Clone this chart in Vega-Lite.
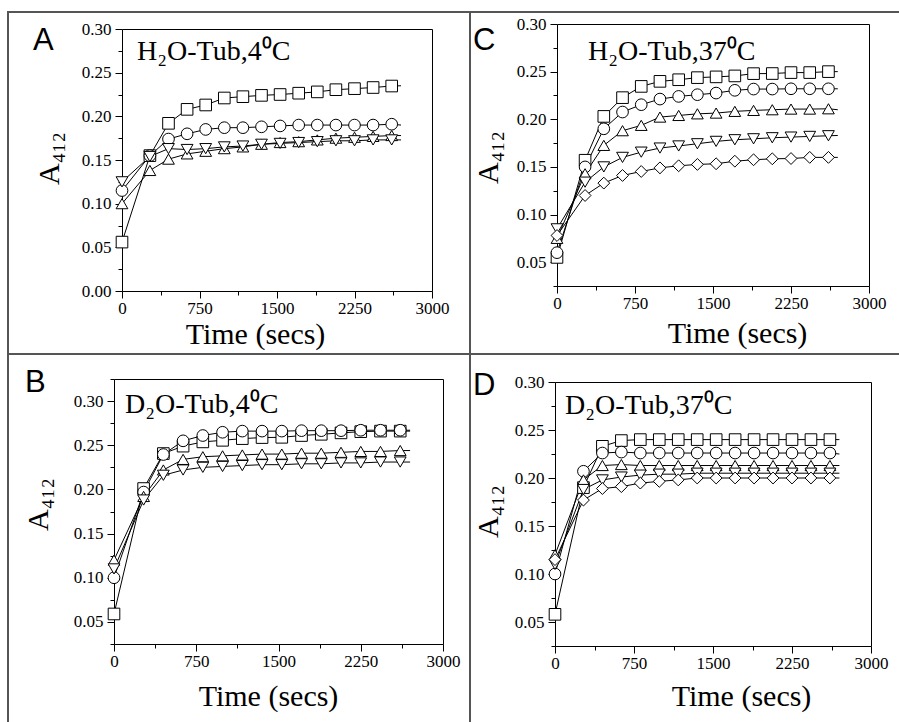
{
"$schema": "https://vega.github.io/schema/vega-lite/v6.json",
"padding": {"left": 7, "top": 11, "right": 0, "bottom": 0},
"autosize": {"type": "pad"},
"background": "white",
"columns": 7,
"spacing": 0,
"bounds": "flush",
"datasets": {
"A": [
{"t":0,"v":0.056,"s":"sq"},{"t":270,"v":0.155,"s":"sq"},{"t":450,"v":0.192,"s":"sq"},{"t":630,"v":0.208,"s":"sq"},{"t":810,"v":0.213,"s":"sq"},{"t":990,"v":0.221,"s":"sq"},{"t":1170,"v":0.2225,"s":"sq"},{"t":1350,"v":0.224,"s":"sq"},{"t":1530,"v":0.225,"s":"sq"},{"t":1710,"v":0.2265,"s":"sq"},{"t":1890,"v":0.228,"s":"sq"},{"t":2070,"v":0.2305,"s":"sq"},{"t":2250,"v":0.2317,"s":"sq"},{"t":2430,"v":0.233,"s":"sq"},{"t":2610,"v":0.2347,"s":"sq"},{"t":2700,"v":0.235,"s":"sq"},
{"t":0,"v":0.115,"s":"ci"},{"t":270,"v":0.155,"s":"ci"},{"t":450,"v":0.174,"s":"ci"},{"t":630,"v":0.180,"s":"ci"},{"t":810,"v":0.185,"s":"ci"},{"t":990,"v":0.187,"s":"ci"},{"t":1170,"v":0.187,"s":"ci"},{"t":1350,"v":0.188,"s":"ci"},{"t":1530,"v":0.189,"s":"ci"},{"t":1710,"v":0.190,"s":"ci"},{"t":1890,"v":0.190,"s":"ci"},{"t":2070,"v":0.190,"s":"ci"},{"t":2250,"v":0.190,"s":"ci"},{"t":2430,"v":0.190,"s":"ci"},{"t":2610,"v":0.191,"s":"ci"},{"t":2700,"v":0.190,"s":"ci"},
{"t":0,"v":0.100,"s":"tu"},{"t":270,"v":0.138,"s":"tu"},{"t":450,"v":0.151,"s":"tu"},{"t":630,"v":0.157,"s":"tu"},{"t":810,"v":0.160,"s":"tu"},{"t":990,"v":0.163,"s":"tu"},{"t":1170,"v":0.165,"s":"tu"},{"t":1350,"v":0.168,"s":"tu"},{"t":1530,"v":0.170,"s":"tu"},{"t":1710,"v":0.171,"s":"tu"},{"t":1890,"v":0.173,"s":"tu"},{"t":2070,"v":0.175,"s":"tu"},{"t":2250,"v":0.176,"s":"tu"},{"t":2430,"v":0.177,"s":"tu"},{"t":2610,"v":0.178,"s":"tu"},{"t":2700,"v":0.178,"s":"tu"},
{"t":0,"v":0.125,"s":"td"},{"t":270,"v":0.154,"s":"td"},{"t":450,"v":0.163,"s":"td"},{"t":630,"v":0.162,"s":"td"},{"t":810,"v":0.163,"s":"td"},{"t":990,"v":0.165,"s":"td"},{"t":1170,"v":0.166,"s":"td"},{"t":1350,"v":0.168,"s":"td"},{"t":1530,"v":0.169,"s":"td"},{"t":1710,"v":0.170,"s":"td"},{"t":1890,"v":0.171,"s":"td"},{"t":2070,"v":0.172,"s":"td"},{"t":2250,"v":0.172,"s":"td"},{"t":2430,"v":0.173,"s":"td"},{"t":2610,"v":0.173,"s":"td"},{"t":2700,"v":0.173,"s":"td"}
],
"B": [
{"t":0,"v":0.059,"s":"sq"},{"t":270,"v":0.201,"s":"sq"},{"t":450,"v":0.2406,"s":"sq"},{"t":630,"v":0.249,"s":"sq"},{"t":810,"v":0.2538,"s":"sq"},{"t":990,"v":0.2556,"s":"sq"},{"t":1170,"v":0.2575,"s":"sq"},{"t":1350,"v":0.2587,"s":"sq"},{"t":1530,"v":0.259,"s":"sq"},{"t":1710,"v":0.261,"s":"sq"},{"t":1890,"v":0.2624,"s":"sq"},{"t":2070,"v":0.264,"s":"sq"},{"t":2250,"v":0.2654,"s":"sq"},{"t":2430,"v":0.266,"s":"sq"},{"t":2610,"v":0.266,"s":"sq"},{"t":2700,"v":0.266,"s":"sq"},
{"t":0,"v":0.100,"s":"ci"},{"t":270,"v":0.197,"s":"ci"},{"t":450,"v":0.2395,"s":"ci"},{"t":630,"v":0.255,"s":"ci"},{"t":810,"v":0.261,"s":"ci"},{"t":990,"v":0.2647,"s":"ci"},{"t":1170,"v":0.266,"s":"ci"},{"t":1350,"v":0.266,"s":"ci"},{"t":1530,"v":0.266,"s":"ci"},{"t":1710,"v":0.2665,"s":"ci"},{"t":1890,"v":0.2665,"s":"ci"},{"t":2070,"v":0.2665,"s":"ci"},{"t":2250,"v":0.267,"s":"ci"},{"t":2430,"v":0.267,"s":"ci"},{"t":2610,"v":0.267,"s":"ci"},{"t":2700,"v":0.267,"s":"ci"},
{"t":0,"v":0.120,"s":"tu"},{"t":270,"v":0.192,"s":"tu"},{"t":450,"v":0.222,"s":"tu"},{"t":630,"v":0.234,"s":"tu"},{"t":810,"v":0.237,"s":"tu"},{"t":990,"v":0.238,"s":"tu"},{"t":1170,"v":0.239,"s":"tu"},{"t":1350,"v":0.240,"s":"tu"},{"t":1530,"v":0.240,"s":"tu"},{"t":1710,"v":0.241,"s":"tu"},{"t":1890,"v":0.241,"s":"tu"},{"t":2070,"v":0.242,"s":"tu"},{"t":2250,"v":0.243,"s":"tu"},{"t":2430,"v":0.243,"s":"tu"},{"t":2610,"v":0.244,"s":"tu"},{"t":2700,"v":0.244,"s":"tu"},
{"t":0,"v":0.110,"s":"td"},{"t":270,"v":0.188,"s":"td"},{"t":450,"v":0.216,"s":"td"},{"t":630,"v":0.222,"s":"td"},{"t":810,"v":0.225,"s":"td"},{"t":990,"v":0.226,"s":"td"},{"t":1170,"v":0.227,"s":"td"},{"t":1350,"v":0.228,"s":"td"},{"t":1530,"v":0.228,"s":"td"},{"t":1710,"v":0.229,"s":"td"},{"t":1890,"v":0.229,"s":"td"},{"t":2070,"v":0.230,"s":"td"},{"t":2250,"v":0.230,"s":"td"},{"t":2430,"v":0.231,"s":"td"},{"t":2610,"v":0.231,"s":"td"},{"t":2700,"v":0.231,"s":"td"}
],
"C": [
{"t":0,"v":0.055,"s":"sq"},{"t":270,"v":0.157,"s":"sq"},{"t":450,"v":0.203,"s":"sq"},{"t":630,"v":0.2227,"s":"sq"},{"t":810,"v":0.2345,"s":"sq"},{"t":990,"v":0.2398,"s":"sq"},{"t":1170,"v":0.2415,"s":"sq"},{"t":1350,"v":0.2437,"s":"sq"},{"t":1530,"v":0.2445,"s":"sq"},{"t":1710,"v":0.2455,"s":"sq"},{"t":1890,"v":0.2479,"s":"sq"},{"t":2070,"v":0.248,"s":"sq"},{"t":2250,"v":0.249,"s":"sq"},{"t":2430,"v":0.249,"s":"sq"},{"t":2610,"v":0.250,"s":"sq"},{"t":2700,"v":0.250,"s":"sq"},
{"t":0,"v":0.060,"s":"ci"},{"t":270,"v":0.150,"s":"ci"},{"t":450,"v":0.190,"s":"ci"},{"t":630,"v":0.2076,"s":"ci"},{"t":810,"v":0.2153,"s":"ci"},{"t":990,"v":0.2212,"s":"ci"},{"t":1170,"v":0.224,"s":"ci"},{"t":1350,"v":0.2258,"s":"ci"},{"t":1530,"v":0.2275,"s":"ci"},{"t":1710,"v":0.2304,"s":"ci"},{"t":1890,"v":0.2317,"s":"ci"},{"t":2070,"v":0.2317,"s":"ci"},{"t":2250,"v":0.232,"s":"ci"},{"t":2430,"v":0.232,"s":"ci"},{"t":2610,"v":0.232,"s":"ci"},{"t":2700,"v":0.232,"s":"ci"},
{"t":0,"v":0.075,"s":"tu"},{"t":270,"v":0.1428,"s":"tu"},{"t":450,"v":0.1726,"s":"tu"},{"t":630,"v":0.188,"s":"tu"},{"t":810,"v":0.1936,"s":"tu"},{"t":990,"v":0.2023,"s":"tu"},{"t":1170,"v":0.204,"s":"tu"},{"t":1350,"v":0.2057,"s":"tu"},{"t":1530,"v":0.2065,"s":"tu"},{"t":1710,"v":0.2083,"s":"tu"},{"t":1890,"v":0.2093,"s":"tu"},{"t":2070,"v":0.210,"s":"tu"},{"t":2250,"v":0.2107,"s":"tu"},{"t":2430,"v":0.2107,"s":"tu"},{"t":2610,"v":0.211,"s":"tu"},{"t":2700,"v":0.210,"s":"tu"},
{"t":0,"v":0.085,"s":"td"},{"t":270,"v":0.134,"s":"td"},{"t":450,"v":0.150,"s":"td"},{"t":630,"v":0.160,"s":"td"},{"t":810,"v":0.1655,"s":"td"},{"t":990,"v":0.1698,"s":"td"},{"t":1170,"v":0.172,"s":"td"},{"t":1350,"v":0.1743,"s":"td"},{"t":1530,"v":0.1768,"s":"td"},{"t":1710,"v":0.1785,"s":"td"},{"t":1890,"v":0.1795,"s":"td"},{"t":2070,"v":0.1806,"s":"td"},{"t":2250,"v":0.1813,"s":"td"},{"t":2430,"v":0.182,"s":"td"},{"t":2610,"v":0.1827,"s":"td"},{"t":2700,"v":0.183,"s":"td"},
{"t":0,"v":0.078,"s":"di"},{"t":270,"v":0.120,"s":"di"},{"t":450,"v":0.133,"s":"di"},{"t":630,"v":0.141,"s":"di"},{"t":810,"v":0.1452,"s":"di"},{"t":990,"v":0.149,"s":"di"},{"t":1170,"v":0.1512,"s":"di"},{"t":1350,"v":0.1526,"s":"di"},{"t":1530,"v":0.1533,"s":"di"},{"t":1710,"v":0.156,"s":"di"},{"t":1890,"v":0.1575,"s":"di"},{"t":2070,"v":0.1585,"s":"di"},{"t":2250,"v":0.1588,"s":"di"},{"t":2430,"v":0.160,"s":"di"},{"t":2610,"v":0.160,"s":"di"},{"t":2700,"v":0.160,"s":"di"}
],
"D": [
{"t":0,"v":0.058,"s":"sq"},{"t":270,"v":0.190,"s":"sq"},{"t":450,"v":0.233,"s":"sq"},{"t":630,"v":0.239,"s":"sq"},{"t":810,"v":0.240,"s":"sq"},{"t":990,"v":0.240,"s":"sq"},{"t":1170,"v":0.240,"s":"sq"},{"t":1350,"v":0.240,"s":"sq"},{"t":1530,"v":0.240,"s":"sq"},{"t":1710,"v":0.240,"s":"sq"},{"t":1890,"v":0.240,"s":"sq"},{"t":2070,"v":0.240,"s":"sq"},{"t":2250,"v":0.240,"s":"sq"},{"t":2430,"v":0.240,"s":"sq"},{"t":2610,"v":0.240,"s":"sq"},{"t":2700,"v":0.240,"s":"sq"},
{"t":0,"v":0.100,"s":"ci"},{"t":270,"v":0.207,"s":"ci"},{"t":450,"v":0.226,"s":"ci"},{"t":630,"v":0.227,"s":"ci"},{"t":810,"v":0.226,"s":"ci"},{"t":990,"v":0.226,"s":"ci"},{"t":1170,"v":0.226,"s":"ci"},{"t":1350,"v":0.226,"s":"ci"},{"t":1530,"v":0.226,"s":"ci"},{"t":1710,"v":0.226,"s":"ci"},{"t":1890,"v":0.226,"s":"ci"},{"t":2070,"v":0.226,"s":"ci"},{"t":2250,"v":0.226,"s":"ci"},{"t":2430,"v":0.226,"s":"ci"},{"t":2610,"v":0.226,"s":"ci"},{"t":2700,"v":0.225,"s":"ci"},
{"t":0,"v":0.120,"s":"tu"},{"t":270,"v":0.198,"s":"tu"},{"t":450,"v":0.213,"s":"tu"},{"t":630,"v":0.214,"s":"tu"},{"t":810,"v":0.213,"s":"tu"},{"t":990,"v":0.213,"s":"tu"},{"t":1170,"v":0.213,"s":"tu"},{"t":1350,"v":0.213,"s":"tu"},{"t":1530,"v":0.213,"s":"tu"},{"t":1710,"v":0.213,"s":"tu"},{"t":1890,"v":0.213,"s":"tu"},{"t":2070,"v":0.213,"s":"tu"},{"t":2250,"v":0.213,"s":"tu"},{"t":2430,"v":0.213,"s":"tu"},{"t":2610,"v":0.213,"s":"tu"},{"t":2700,"v":0.213,"s":"tu"},
{"t":0,"v":0.110,"s":"td"},{"t":270,"v":0.188,"s":"td"},{"t":450,"v":0.198,"s":"td"},{"t":630,"v":0.201,"s":"td"},{"t":810,"v":0.203,"s":"td"},{"t":990,"v":0.204,"s":"td"},{"t":1170,"v":0.204,"s":"td"},{"t":1350,"v":0.205,"s":"td"},{"t":1530,"v":0.205,"s":"td"},{"t":1710,"v":0.205,"s":"td"},{"t":1890,"v":0.205,"s":"td"},{"t":2070,"v":0.205,"s":"td"},{"t":2250,"v":0.205,"s":"td"},{"t":2430,"v":0.205,"s":"td"},{"t":2610,"v":0.205,"s":"td"},{"t":2700,"v":0.205,"s":"td"},
{"t":0,"v":0.115,"s":"di"},{"t":270,"v":0.177,"s":"di"},{"t":450,"v":0.189,"s":"di"},{"t":630,"v":0.191,"s":"di"},{"t":810,"v":0.1947,"s":"di"},{"t":990,"v":0.1965,"s":"di"},{"t":1170,"v":0.198,"s":"di"},{"t":1350,"v":0.200,"s":"di"},{"t":1530,"v":0.200,"s":"di"},{"t":1710,"v":0.200,"s":"di"},{"t":1890,"v":0.200,"s":"di"},{"t":2070,"v":0.200,"s":"di"},{"t":2250,"v":0.200,"s":"di"},{"t":2430,"v":0.200,"s":"di"},{"t":2610,"v":0.200,"s":"di"},{"t":2700,"v":0.200,"s":"di"}
]
},
"concat": [
{"width":2,"height":2,"data":{"values":[]},"mark":"rect","view":{"fill":"#555","stroke":null}},
{"width":105,"height":2,"data":{"values":[]},"mark":"rect","view":{"fill":"#555","stroke":null}},
{"width":329,"height":2,"data":{"values":[]},"mark":"rect","view":{"fill":"#555","stroke":null}},
{"width":26,"height":2,"data":{"values":[]},"mark":"rect","view":{"fill":"#555","stroke":null}},
{"width":2,"height":2,"data":{"values":[]},"mark":"rect","view":{"fill":"#555","stroke":null}},
{"width":84,"height":2,"data":{"values":[]},"mark":"rect","view":{"fill":"#555","stroke":null}},
{"width":344,"height":2,"data":{"values":[]},"mark":"rect","view":{"fill":"#555","stroke":null}},

{"width":2,"height":11,"data":{"values":[]},"mark":"rect","view":{"fill":"#555","stroke":null}},
{"width":105,"height":11,"data":{"values":[]},"mark":"rect"},
{"width":329,"height":11,"data":{"values":[]},"mark":"rect","title":{"text":"H₂O-Tub,4⁰C","anchor":"start","frame":"group","orient":"top","offset":-75,"dx":23,"baseline":"alphabetic","font":"Liberation Serif","fontSize":28,"fontWeight":"normal","color":"black"}},
{"width":26,"height":11,"data":{"values":[]},"mark":"rect"},
{"width":2,"height":11,"data":{"values":[]},"mark":"rect","view":{"fill":"#555","stroke":null}},
{"width":84,"height":11,"data":{"values":[]},"mark":"rect"},
{"width":316,"height":11,"data":{"values":[]},"mark":"rect","title":{"text":"H₂O-Tub,37⁰C","anchor":"start","frame":"group","orient":"top","offset":-75,"dx":33,"baseline":"alphabetic","font":"Liberation Serif","fontSize":28,"fontWeight":"normal","color":"black"}},

{"width":2,"height":267,"data":{"values":[]},"mark":"rect","view":{"fill":"#555","stroke":null}},
{"width":105,"height":267,"data":{"values":[]},"mark":"rect","title":{"text":"A","anchor":"start","frame":"group","orient":"top","offset":-57,"dx":24,"baseline":"alphabetic","font":"Liberation Sans","fontSize":31,"fontWeight":"normal","color":"black"}},
{"width":318,"height":267,"data":{"name":"A"},
 "resolve":{"axis":{"x":"independent","y":"independent"}},
 "layer":[
  {"mark":{"type":"line","color":"black","strokeWidth":1},
   "encoding":{
    "x":{"field":"t","type":"quantitative","scale":{"domain":[0,3000],"range":[8,318],"nice":false},
         "axis":{"orient":"bottom","values":[0,375,750,1125,1500,1875,2250,2625,3000],"labelExpr":"datum.value % 750 === 0 ? format(datum.value,'d') : ''","tickSize":{"condition":{"test":"datum.value % 750 === 0","value":7},"value":4},"tickColor":"black","tickWidth":1,"domain":true,"domainColor":"black","domainWidth":1,"grid":false,"labelFont":"Liberation Serif","labelFontSize":17,"labelColor":"black","labelPadding":2,"labelFlush":false,"labelOverlap":false,"title":"Time (secs)","titleFont":"Liberation Serif","titleFontSize":30,"titleFontWeight":"normal","titleColor":"black","titleX":141,"titleY":52,"titleBaseline":"alphabetic","titleAlign":"center"}},
    "y":{"field":"v","type":"quantitative","scale":{"domain":[0,0.3],"range":[267,5],"nice":false,"zero":false},
         "axis":{"orient":"left","offset":-8,"values":[0,0.025,0.05,0.075,0.1,0.125,0.15,0.175,0.2,0.225,0.25,0.275,0.3],"labelExpr":"abs(datum.value*20 - round(datum.value*20)) < 0.001 ? format(datum.value,'.2f') : ''","tickSize":{"condition":{"test":"abs(datum.value*20 - round(datum.value*20)) < 0.001","value":7},"value":4},"tickColor":"black","tickWidth":1,"domain":true,"domainColor":"black","domainWidth":1,"grid":false,"labelFont":"Liberation Serif","labelFontSize":17,"labelColor":"black","labelPadding":4,"labelFlush":false,"labelOverlap":false,"title":"A₄₁₂","titleFont":"Liberation Serif","titleFontSize":30,"titleFontWeight":"normal","titleColor":"black","titleX":-64,"titleY":134,"titleAngle":270,"titleBaseline":"alphabetic","titleAlign":"center"}},
    "detail":{"field":"s"}}},
  {"transform":[{"filter":"datum.t < 2700"}],
   "mark":{"type":"point","filled":true,"fill":"white","stroke":"black","strokeWidth":1,"opacity":1},
   "encoding":{
    "x":{"field":"t","type":"quantitative","axis":{"orient":"top","offset":-5,"domain":true,"domainColor":"black","ticks":false,"labels":false,"grid":false,"title":null}},
    "y":{"field":"v","type":"quantitative","axis":{"orient":"right","domain":true,"domainColor":"black","ticks":false,"labels":false,"grid":false,"title":null}},
    "shape":{"field":"s","type":"nominal","scale":{"domain":["sq","ci","tu","td","di"],"range":["square","circle","triangle-up","triangle-down","diamond"]},"legend":null},
    "size":{"field":"s","type":"nominal","scale":{"domain":["sq","ci","tu","td","di"],"range":[135,140,220,220,150]},"legend":null}}}
 ]},
{"width":26,"height":267,"data":{"values":[]},"mark":"rect"},
{"width":2,"height":267,"data":{"values":[]},"mark":"rect","view":{"fill":"#555","stroke":null}},
{"width":84,"height":267,"data":{"values":[]},"mark":"rect","title":{"text":"C","anchor":"start","frame":"group","orient":"top","offset":-57,"dx":2,"baseline":"alphabetic","font":"Liberation Sans","fontSize":31,"fontWeight":"normal","color":"black"}},
{"width":314,"height":262,"data":{"name":"C"},
 "resolve":{"axis":{"x":"independent","y":"independent"}},
 "layer":[
  {"mark":{"type":"line","color":"black","strokeWidth":1},
   "encoding":{
    "x":{"field":"t","type":"quantitative","scale":{"domain":[0,3000],"range":[2,314],"nice":false},
         "axis":{"orient":"bottom","values":[0,375,750,1125,1500,1875,2250,2625,3000],"labelExpr":"datum.value % 750 === 0 ? format(datum.value,'d') : ''","tickSize":{"condition":{"test":"datum.value % 750 === 0","value":7},"value":4},"tickColor":"black","tickWidth":1,"domain":true,"domainColor":"black","domainWidth":1,"grid":false,"labelFont":"Liberation Serif","labelFontSize":17,"labelColor":"black","labelPadding":2,"labelFlush":false,"labelOverlap":false,"title":"Time (secs)","titleFont":"Liberation Serif","titleFontSize":30,"titleFontWeight":"normal","titleColor":"black","titleX":182,"titleY":56,"titleBaseline":"alphabetic","titleAlign":"center"}},
    "y":{"field":"v","type":"quantitative","scale":{"domain":[0.025,0.3],"nice":false,"zero":false},
         "axis":{"orient":"left","offset":-2,"values":[0.025,0.05,0.075,0.1,0.125,0.15,0.175,0.2,0.225,0.25,0.275,0.3],"labelExpr":"abs(datum.value*20 - round(datum.value*20)) < 0.001 ? format(datum.value,'.2f') : ''","tickSize":{"condition":{"test":"abs(datum.value*20 - round(datum.value*20)) < 0.001","value":7},"value":4},"tickColor":"black","tickWidth":1,"domain":true,"domainColor":"black","domainWidth":1,"grid":false,"labelFont":"Liberation Serif","labelFontSize":17,"labelColor":"black","labelPadding":4,"labelFlush":false,"labelOverlap":false,"title":"A₄₁₂","titleFont":"Liberation Serif","titleFontSize":30,"titleFontWeight":"normal","titleColor":"black","titleX":-60,"titleY":133,"titleAngle":270,"titleBaseline":"alphabetic","titleAlign":"center"}},
    "detail":{"field":"s"}}},
  {"transform":[{"filter":"datum.t < 2700"}],
   "mark":{"type":"point","filled":true,"fill":"white","stroke":"black","strokeWidth":1,"opacity":1},
   "encoding":{
    "x":{"field":"t","type":"quantitative","axis":{"orient":"top","domain":true,"domainColor":"black","ticks":false,"labels":false,"grid":false,"title":null}},
    "y":{"field":"v","type":"quantitative","axis":{"orient":"right","domain":true,"domainColor":"black","ticks":false,"labels":false,"grid":false,"title":null}},
    "shape":{"field":"s","type":"nominal","scale":{"domain":["sq","ci","tu","td","di"],"range":["square","circle","triangle-up","triangle-down","diamond"]},"legend":null},
    "size":{"field":"s","type":"nominal","scale":{"domain":["sq","ci","tu","td","di"],"range":[135,140,220,220,150]},"legend":null}}}
 ]},

{"width":2,"height":62,"data":{"values":[]},"mark":"rect","view":{"fill":"#555","stroke":null}},
{"width":105,"height":62,"data":{"values":[]},"mark":"rect"},
{"width":329,"height":62,"data":{"values":[]},"mark":"rect"},
{"width":26,"height":62,"data":{"values":[]},"mark":"rect"},
{"width":2,"height":62,"data":{"values":[]},"mark":"rect","view":{"fill":"#555","stroke":null}},
{"width":84,"height":62,"data":{"values":[]},"mark":"rect"},
{"width":316,"height":62,"data":{"values":[]},"mark":"rect"},

{"width":2,"height":2,"data":{"values":[]},"mark":"rect","view":{"fill":"#555","stroke":null}},
{"width":105,"height":2,"data":{"values":[]},"mark":"rect","view":{"fill":"#555","stroke":null}},
{"width":329,"height":2,"data":{"values":[]},"mark":"rect","view":{"fill":"#555","stroke":null}},
{"width":26,"height":2,"data":{"values":[]},"mark":"rect","view":{"fill":"#555","stroke":null}},
{"width":2,"height":2,"data":{"values":[]},"mark":"rect","view":{"fill":"#555","stroke":null}},
{"width":84,"height":2,"data":{"values":[]},"mark":"rect","view":{"fill":"#555","stroke":null}},
{"width":344,"height":2,"data":{"values":[]},"mark":"rect","view":{"fill":"#555","stroke":null}},

{"width":2,"height":24,"data":{"values":[]},"mark":"rect","view":{"fill":"#555","stroke":null}},
{"width":105,"height":24,"data":{"values":[]},"mark":"rect"},
{"width":329,"height":24,"data":{"values":[]},"mark":"rect","title":{"text":"D₂O-Tub,4⁰C","anchor":"start","frame":"group","orient":"top","offset":-86,"dx":11,"baseline":"alphabetic","font":"Liberation Serif","fontSize":28,"fontWeight":"normal","color":"black"}},
{"width":26,"height":24,"data":{"values":[]},"mark":"rect"},
{"width":2,"height":24,"data":{"values":[]},"mark":"rect","view":{"fill":"#555","stroke":null}},
{"width":84,"height":24,"data":{"values":[]},"mark":"rect"},
{"width":316,"height":24,"data":{"values":[]},"mark":"rect","title":{"text":"D₂O-Tub,37⁰C","anchor":"start","frame":"group","orient":"top","offset":-87,"dx":10,"baseline":"alphabetic","font":"Liberation Serif","fontSize":28,"fontWeight":"normal","color":"black"}},

{"width":2,"height":267,"data":{"values":[]},"mark":"rect","view":{"fill":"#555","stroke":null}},
{"width":105,"height":267,"data":{"values":[]},"mark":"rect","title":{"text":"B","anchor":"start","frame":"group","orient":"top","offset":-44,"dx":16,"baseline":"alphabetic","font":"Liberation Sans","fontSize":31,"fontWeight":"normal","color":"black"}},
{"width":329,"height":265,"data":{"name":"B"},
 "resolve":{"axis":{"x":"independent","y":"independent"}},
 "layer":[
  {"mark":{"type":"line","color":"black","strokeWidth":1},
   "encoding":{
    "x":{"field":"t","type":"quantitative","scale":{"domain":[0,3000],"nice":false},
         "axis":{"orient":"bottom","values":[0,375,750,1125,1500,1875,2250,2625,3000],"labelExpr":"datum.value % 750 === 0 ? format(datum.value,'d') : ''","tickSize":{"condition":{"test":"datum.value % 750 === 0","value":7},"value":4},"tickColor":"black","tickWidth":1,"domain":true,"domainColor":"black","domainWidth":1,"grid":false,"labelFont":"Liberation Serif","labelFontSize":17,"labelColor":"black","labelPadding":2,"labelFlush":false,"labelOverlap":false,"title":"Time (secs)","titleFont":"Liberation Serif","titleFontSize":30,"titleFontWeight":"normal","titleColor":"black","titleX":154,"titleY":61,"titleBaseline":"alphabetic","titleAlign":"center"}},
    "y":{"field":"v","type":"quantitative","scale":{"domain":[0.025,0.325],"nice":false,"zero":false},
         "axis":{"orient":"left","values":[0.025,0.05,0.075,0.1,0.125,0.15,0.175,0.2,0.225,0.25,0.275,0.3,0.325],"labelExpr":"abs(datum.value*20 - round(datum.value*20)) < 0.001 ? format(datum.value,'.2f') : ''","tickSize":{"condition":{"test":"abs(datum.value*20 - round(datum.value*20)) < 0.001","value":7},"value":4},"tickColor":"black","tickWidth":1,"domain":true,"domainColor":"black","domainWidth":1,"grid":false,"labelFont":"Liberation Serif","labelFontSize":17,"labelColor":"black","labelPadding":4,"labelFlush":false,"labelOverlap":false,"title":"A₄₁₂","titleFont":"Liberation Serif","titleFontSize":30,"titleFontWeight":"normal","titleColor":"black","titleX":-67,"titleY":125,"titleAngle":270,"titleBaseline":"alphabetic","titleAlign":"center"}},
    "detail":{"field":"s"}}},
  {"transform":[{"filter":"datum.t < 2700"}],
   "mark":{"type":"point","filled":true,"fill":"white","stroke":"black","strokeWidth":1,"opacity":1},
   "encoding":{
    "x":{"field":"t","type":"quantitative","axis":{"orient":"top","domain":true,"domainColor":"black","ticks":false,"labels":false,"grid":false,"title":null}},
    "y":{"field":"v","type":"quantitative","axis":{"orient":"right","domain":true,"domainColor":"black","ticks":false,"labels":false,"grid":false,"title":null}},
    "shape":{"field":"s","type":"nominal","scale":{"domain":["sq","ci","tu","td","di"],"range":["square","circle","triangle-up","triangle-down","diamond"]},"legend":null},
    "size":{"field":"s","type":"nominal","scale":{"domain":["sq","ci","tu","td","di"],"range":[135,140,220,220,150]},"legend":null}}}
 ]},
{"width":26,"height":267,"data":{"values":[]},"mark":"rect"},
{"width":2,"height":267,"data":{"values":[]},"mark":"rect","view":{"fill":"#555","stroke":null}},
{"width":84,"height":267,"data":{"values":[]},"mark":"rect","title":{"text":"D","anchor":"start","frame":"group","orient":"top","offset":-47,"dx":2,"baseline":"alphabetic","font":"Liberation Sans","fontSize":31,"fontWeight":"normal","color":"black"}},
{"width":316,"height":267,"data":{"name":"D"},
 "resolve":{"axis":{"x":"independent","y":"independent"}},
 "layer":[
  {"mark":{"type":"line","color":"black","strokeWidth":1},
   "encoding":{
    "x":{"field":"t","type":"quantitative","scale":{"domain":[0,3000],"nice":false},
         "axis":{"orient":"bottom","values":[0,375,750,1125,1500,1875,2250,2625,3000],"labelExpr":"datum.value % 750 === 0 ? format(datum.value,'d') : ''","tickSize":{"condition":{"test":"datum.value % 750 === 0","value":7},"value":4},"tickColor":"black","tickWidth":1,"domain":true,"domainColor":"black","domainWidth":1,"grid":false,"labelFont":"Liberation Serif","labelFontSize":17,"labelColor":"black","labelPadding":2,"labelFlush":false,"labelOverlap":false,"title":"Time (secs)","titleFont":"Liberation Serif","titleFontSize":30,"titleFontWeight":"normal","titleColor":"black","titleX":186,"titleY":59,"titleBaseline":"alphabetic","titleAlign":"center"}},
    "y":{"field":"v","type":"quantitative","scale":{"domain":[0.025,0.3],"range":[267,3],"nice":false,"zero":false},
         "axis":{"orient":"left","values":[0.025,0.05,0.075,0.1,0.125,0.15,0.175,0.2,0.225,0.25,0.275,0.3],"labelExpr":"abs(datum.value*20 - round(datum.value*20)) < 0.001 ? format(datum.value,'.2f') : ''","tickSize":{"condition":{"test":"abs(datum.value*20 - round(datum.value*20)) < 0.001","value":7},"value":4},"tickColor":"black","tickWidth":1,"domain":true,"domainColor":"black","domainWidth":1,"grid":false,"labelFont":"Liberation Serif","labelFontSize":17,"labelColor":"black","labelPadding":4,"labelFlush":false,"labelOverlap":false,"title":"A₄₁₂","titleFont":"Liberation Serif","titleFontSize":30,"titleFontWeight":"normal","titleColor":"black","titleX":-58,"titleY":132,"titleAngle":270,"titleBaseline":"alphabetic","titleAlign":"center"}},
    "detail":{"field":"s"}}},
  {"transform":[{"filter":"datum.t < 2700"}],
   "mark":{"type":"point","filled":true,"fill":"white","stroke":"black","strokeWidth":1,"opacity":1},
   "encoding":{
    "x":{"field":"t","type":"quantitative","axis":{"orient":"top","offset":-3,"domain":true,"domainColor":"black","ticks":false,"labels":false,"grid":false,"title":null}},
    "y":{"field":"v","type":"quantitative","axis":{"orient":"right","domain":true,"domainColor":"black","ticks":false,"labels":false,"grid":false,"title":null}},
    "shape":{"field":"s","type":"nominal","scale":{"domain":["sq","ci","tu","td","di"],"range":["square","circle","triangle-up","triangle-down","diamond"]},"legend":null},
    "size":{"field":"s","type":"nominal","scale":{"domain":["sq","ci","tu","td","di"],"range":[135,140,220,220,150]},"legend":null}}}
 ]},

{"width":2,"height":76,"data":{"values":[]},"mark":"rect","view":{"fill":"#555","stroke":null}},
{"width":105,"height":1,"data":{"values":[]},"mark":"rect"},
{"width":329,"height":1,"data":{"values":[]},"mark":"rect"},
{"width":26,"height":1,"data":{"values":[]},"mark":"rect"},
{"width":2,"height":76,"data":{"values":[]},"mark":"rect","view":{"fill":"#555","stroke":null}}
],
"config": {
  "view": {"stroke": null},
  "style": {
    "guide-label": {"font": "Liberation Serif", "fontSize": 17, "fill": "black"},
    "guide-title": {"font": "Liberation Serif", "fontSize": 30, "fontWeight": "normal", "fill": "black"}
  }
}
}
